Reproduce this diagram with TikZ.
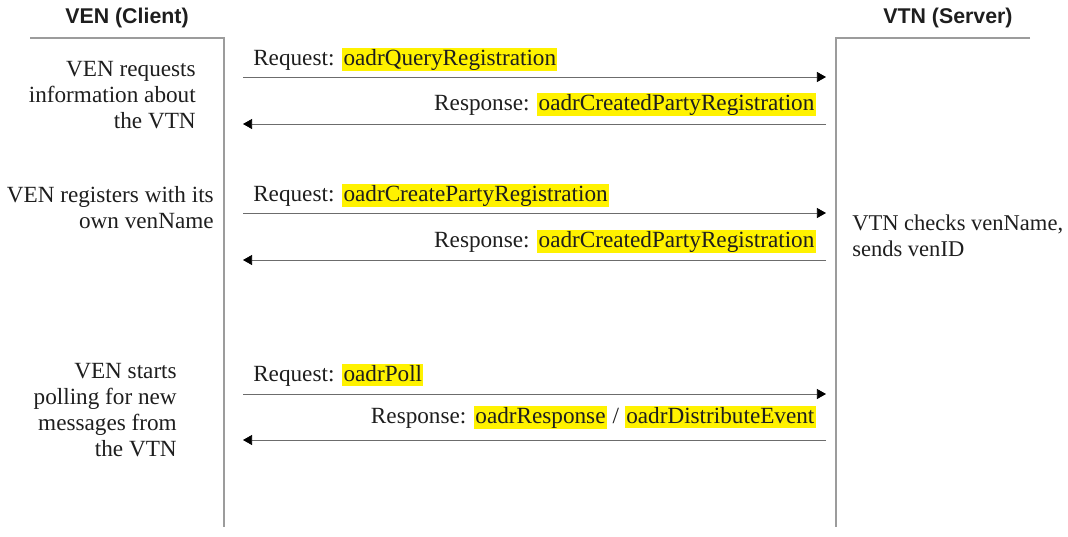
\documentclass[tikz,border=0pt]{standalone}
\usepackage{fontspec}
\setmainfont{Liberation Serif}
\setsansfont{Liberation Sans}
\usetikzlibrary{arrows.meta}
\definecolor{hlyellow}{HTML}{FFF200}
\definecolor{lifegray}{HTML}{9C9C9C}
\definecolor{inkgray}{HTML}{1E1E1E}
\newcommand{\hlt}[1]{{\setlength{\fboxsep}{1pt}\colorbox{hlyellow}{\rule[-3pt]{0pt}{15pt}#1}}}
\tikzset{
  lifeline/.style={draw=lifegray,line width=0.8pt},
  msg/.style={draw=gray!85!black,line width=0.6pt,-{Triangle[length=6.8pt,width=7.5pt,color=black]}},
  role/.style={font=\sffamily\bfseries\fontsize{16}{19}\selectfont,text=inkgray,inner sep=0pt},
  note/.style={inner sep=0pt,text=inkgray,font=\fontsize{17.4}{19.5}\selectfont},
}
\begin{document}
\begin{tikzpicture}[x=0.75pt,y=-0.75pt,line cap=butt,line join=miter]
\useasboundingbox (0,0) rectangle (1068,536);
\path
(30,38) coordinate (VENtop)
(224,38) coordinate (VENcorner)
(224,527) coordinate (VENend)
(1030,38) coordinate (VTNtop)
(836,38) coordinate (VTNcorner)
(836,527) coordinate (VTNend)
(243,77) coordinate (ven1) (826,77) coordinate (vtn1)
(243,124) coordinate (ven2) (826,124) coordinate (vtn2)
(243,213) coordinate (ven3) (826,213) coordinate (vtn3)
(243,260) coordinate (ven4) (826,260) coordinate (vtn4)
(243,394) coordinate (ven5) (826,394) coordinate (vtn5)
(243,440) coordinate (ven6) (826,440) coordinate (vtn6)
;
% lifelines
\draw[lifeline] (VENtop)--(VENcorner)--(VENend);
\draw[lifeline] (VTNtop)--(VTNcorner)--(VTNend);
\node[role] (ven) at (127,18) {VEN (Client)};
\node[role] (vtn) at (948,18) {VTN (Server)};
% messages
\draw[msg] (ven1)--(vtn1);
\draw[msg] (vtn2)--(ven2);
\draw[msg] (ven3)--(vtn3);
\draw[msg] (vtn4)--(ven4);
\draw[msg] (ven5)--(vtn5);
\draw[msg] (vtn6)--(ven6);
\node[note,anchor=base west] (req1) at (253,65) {Request: \hlt{oadrQueryRegistration}};
\node[note,anchor=base east] (res1) at (816,110) {Response: \hlt{oadrCreatedPartyRegistration}};
\node[note,anchor=base west] (req2) at (253,201) {Request: \hlt{oadrCreatePartyRegistration}};
\node[note,anchor=base east] (res2) at (816,247) {Response: \hlt{oadrCreatedPartyRegistration}};
\node[note,anchor=base west] (req3) at (253,381) {Request: \hlt{oadrPoll}};
\node[note,anchor=base east] (res3) at (816,423) {Response: \hlt{oadrResponse} / \hlt{oadrDistributeEvent}};
% side notes
\node[note,align=right,anchor=east] (step1) at (196,95) {VEN requests\\information about\\the VTN};
\node[note,align=right,anchor=east] (step2) at (214,208) {VEN registers with its\\own venName};
\node[note,align=right,anchor=east] (step3) at (177,410) {VEN starts\\polling for new\\messages from\\the VTN};
\node[note,align=left,anchor=west,font=\fontsize{16.9}{19.5}\selectfont] (check) at (852,236) {VTN checks venName,\\sends venID};
\end{tikzpicture}
\end{document}
